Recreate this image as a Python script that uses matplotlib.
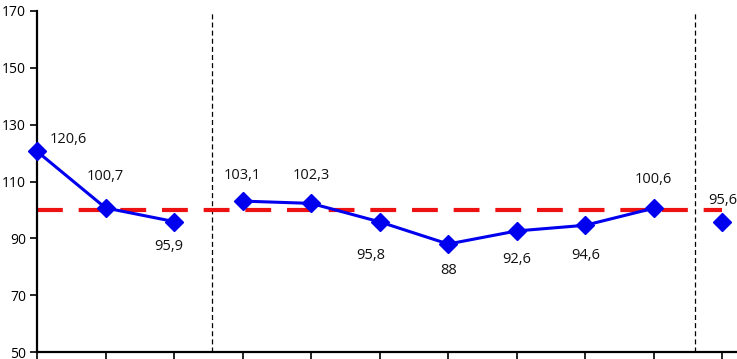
import matplotlib.pyplot as plt

# values
x_idx = [0, 1, 2, 3, 4, 5, 6, 7, 8, 9, 10]
values = [120.6, 100.7, 95.9, 103.1, 102.3, 95.8, 88.0, 92.6, 94.6, 100.6, 95.6]
labels = ["120,6", "100,7", "95,9", "103,1", "102,3", "95,8", "88", "92,6", "94,6", "100,6", "95,6"]
# label offsets in pixels (dx, dy; dy positive = up)
label_off = [(31, 12), (0, 31), (-5, -25), (0, 26), (0, 28), (-9, -34), (0, -26),
             (0, -29), (0, -30), (0, 29), (0, 22)]
segments = [(0, 3), (3, 10), (10, 11)]
separators = [2.56, 9.6]
y_ticks = [50, 70, 90, 110, 130, 150, 170]

plt.rcParams['font.family'] = ['Open Sans', 'DejaVu Sans']

fig = plt.figure(figsize=(7.37, 3.59), dpi=100)
ax = fig.add_axes([37 / 737, 7 / 359, 699 / 737, 341 / 359])

# reference line at 100
ax.plot([0, 10], [100, 100], color='#ee1111', lw=3, dashes=(6.2, 3.8), zorder=2)

for a, b in segments:
    ax.plot(x_idx[a:b], values[a:b], color='#0000ee', lw=2.2, marker='D',
            markersize=9.5, zorder=3, clip_on=False)

for s in separators:
    ax.axvline(s, color='black', lw=0.9, dashes=(4, 2.5), zorder=1)

px = 0.72
for x, v, t, (dx, dy) in zip(x_idx, values, labels, label_off):
    ax.annotate(t, (x, v), xytext=(dx * px, dy * px), textcoords='offset points',
                ha='center', va='center', fontsize=10.5, color='#111111')

ax.set_xlim(0, 10.2)
ax.set_ylim(50, 170)
ax.set_yticks(y_ticks)
ax.set_xticks(x_idx)
ax.set_xticklabels([])
ax.tick_params(axis='y', direction='out', length=5, width=1.2, labelsize=10, pad=3)
ax.tick_params(axis='x', direction='out', length=8, width=1.2)
for side in ['top', 'right']:
    ax.spines[side].set_visible(False)
for side in ['left', 'bottom']:
    ax.spines[side].set_linewidth(1.6)

fig.savefig('out.png', dpi=100)
